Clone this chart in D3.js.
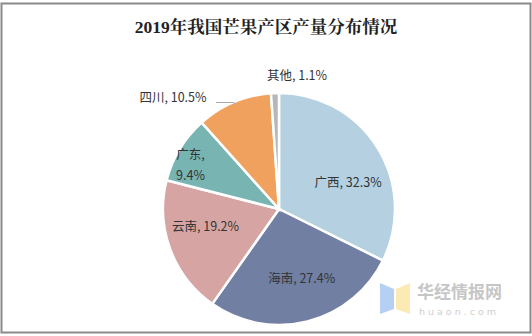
<!DOCTYPE html>
<html><head><meta charset="utf-8">
<script src="https://cdn.jsdelivr.net/npm/d3@7"></script>
<style>body{margin:0;background:#fff;}svg{display:block;}</style>
</head><body>
<svg id="c" width="532" height="336"></svg>
<script>
const title = "2019年我国芒果产区产量分布情况";
const categories = ["广西","海南","云南","广东","四川","其他"];
const values = [32.3, 27.4, 19.2, 9.4, 10.5, 1.1];
const colors = ["#b4d0e1","#717fa3","#d6a5a3","#78b4b1","#f0a15e","#b5b8b8"];

const svg = d3.select("#c");
svg.append("rect").attr("x",1.5).attr("y",3.5).attr("width",529).attr("height",329)
  .attr("fill","#fff").attr("stroke","#8a8a8a").attr("stroke-width",2);

svg.append("text").attr("x",266).attr("y",33).attr("text-anchor","middle")
  .attr("font-family","'Liberation Serif','Noto Serif CJK SC','Noto Sans CJK SC'")
  .attr("font-weight","bold").attr("font-size",17.5).attr("fill","#222").text(title);

const cx = 279, cy = 209, R = 116;
const data = categories.map((c,i)=>({name:c, value:values[i], color:colors[i]}));
const pie = d3.pie().value(d=>d.value).sort(null);
const arcs = pie(data);
const arc = d3.arc().innerRadius(0).outerRadius(R);
const g = svg.append("g").attr("transform",`translate(${cx},${cy})`);
g.selectAll("path").data(arcs).enter().append("path")
  .attr("d",arc).attr("fill",d=>d.data.color).attr("stroke","#fff").attr("stroke-width",2.5);

const font = "'Noto Sans CJK SC','Liberation Sans',sans-serif";
function label(lines, x, y){
  const t = svg.append("text").attr("text-anchor","middle").attr("font-family",font)
    .attr("font-size",12.5).attr("fill","#333");
  lines.forEach((l,i)=>t.append("tspan").attr("x",x).attr("y",y+i*21).text(l));
}
const fmt = d=>d.data.name+", "+d.data.value.toFixed(1)+"%";
const inner = d3.arc().innerRadius(R*0.62).outerRadius(R*0.62);
const offsets = {"广西":[8,16],"海南":[5,4],"云南":[-6,-3],"广东":[-27,-13]};
arcs.forEach(d=>{
  const o = offsets[d.data.name];
  if(!o) return;
  const [x,y] = inner.centroid(d);
  const lines = d.data.name==="广东" ? [d.data.name+",", d.data.value.toFixed(1)+"%"] : [fmt(d)];
  label(lines, cx+x+o[0], cy+y+o[1]);
});
// 四川 outside label with leader
const sc = arcs[4];
const scMid = (sc.startAngle+sc.endAngle)/2;
const ex = cx + Math.sin(scMid)*R*0.97, ey = cy - Math.cos(scMid)*R*0.97;
svg.append("polyline").attr("points",`${216},${102.5} ${234},${102.5} ${ex},${ey}`)
  .attr("fill","none").attr("stroke","#aaa").attr("stroke-width",1);
label([fmt(sc)], 173, 102);
// 其他
label([fmt(arcs[5])], 297, 80);

// watermark
const wm = svg.append("g").attr("opacity",0.85);
wm.append("path").attr("d","M380,283 L394,289 L394,309 L380,314 Z").attr("fill","#a9c8f0");
wm.append("path").attr("d","M396,289 L410,283 L410,314 L396,309 Z").attr("fill","#fbe7a6");
wm.append("text").attr("x",417).attr("y",298).attr("font-family",font).attr("font-size",17)
  .attr("font-weight","bold").attr("fill","#bdbdbd").text("华经情报网");
wm.append("text").attr("x",419).attr("y",315).attr("font-family","'DejaVu Sans',sans-serif").attr("font-size",9.5)
  .attr("letter-spacing",3).attr("fill","#c8c8c8").text("huaon.com");
</script>
</body></html>
